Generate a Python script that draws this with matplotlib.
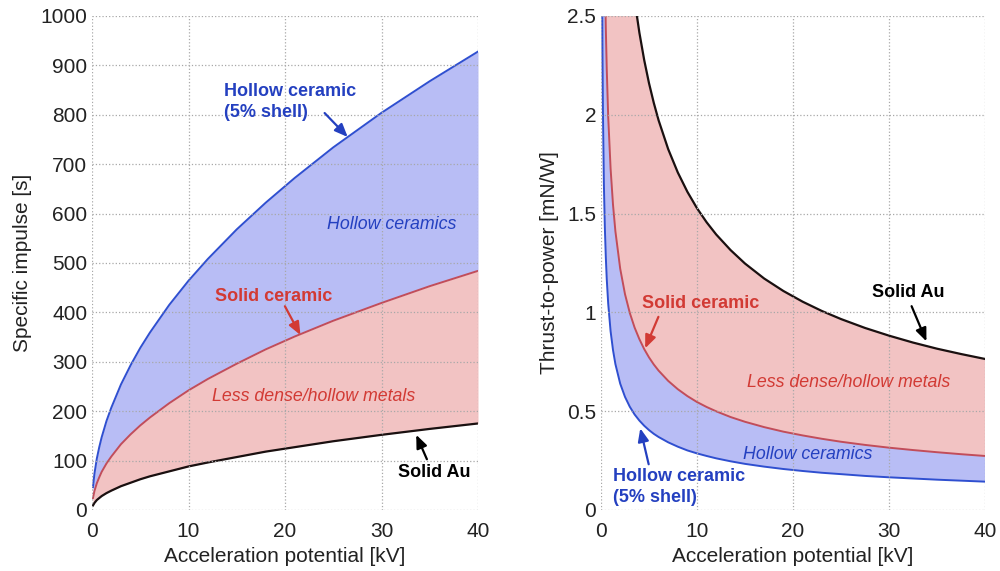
import matplotlib
matplotlib.use('Agg')
import matplotlib.pyplot as plt

plt.rcParams['font.family'] = ['Liberation Sans', 'DejaVu Sans']

# acceleration potential [kV], specific impulse [s] (left panel)
volt_isp = [0.1, 0.25, 0.5, 0.75, 1, 1.5, 2, 3, 4, 5, 6, 8, 10, 12, 15, 18, 21, 25, 30, 35, 40]
isp_au = [9, 14, 20, 24, 28, 34, 39, 48, 55, 62, 68, 78, 88, 96, 107, 118, 127, 139, 152, 164, 175]
isp_ceramic = [24, 38, 54, 66, 77, 94, 108, 133, 153, 171, 187, 216, 242, 265, 296, 325, 351, 383, 419, 453, 484]
isp_hollow = [46, 73, 104, 127, 147, 180, 207, 254, 293, 328, 359, 415, 464, 508, 568, 622, 672, 734, 804, 868, 928]

# acceleration potential [kV], thrust-to-power [mN/W] (right panel)
volt_tp = [0.1, 0.15, 0.2, 0.3, 0.4, 0.5, 0.6, 0.75, 1, 1.25, 1.5, 2, 2.5, 3, 3.5, 4, 4.5, 5, 5.5, 6,
           7, 8, 9, 10, 11, 12, 13.5, 15, 17, 19, 21, 23, 25, 27.5, 30, 32.5, 35, 37.5, 40]
tp_au = [15.27, 12.47, 10.80, 8.82, 7.64, 6.83, 6.24, 5.58, 4.83, 4.32, 3.94, 3.42, 3.05, 2.79, 2.58,
         2.415, 2.277, 2.160, 2.060, 1.972, 1.826, 1.708, 1.610, 1.527, 1.456, 1.394, 1.315, 1.247,
         1.171, 1.108, 1.054, 1.007, 0.966, 0.921, 0.882, 0.847, 0.816, 0.789, 0.764]
tp_ceramic = [5.46, 4.46, 3.86, 3.15, 2.73, 2.44, 2.23, 1.99, 1.727, 1.545, 1.410, 1.221, 1.092, 0.997,
              0.923, 0.864, 0.814, 0.772, 0.736, 0.705, 0.653, 0.611, 0.576, 0.546, 0.521, 0.499, 0.470,
              0.446, 0.419, 0.396, 0.377, 0.360, 0.345, 0.329, 0.315, 0.303, 0.292, 0.282, 0.273]
tp_hollow = [2.86, 2.33, 2.02, 1.65, 1.43, 1.28, 1.167, 1.044, 0.904, 0.809, 0.738, 0.639, 0.572, 0.522,
             0.483, 0.452, 0.426, 0.404, 0.385, 0.369, 0.342, 0.320, 0.301, 0.286, 0.273, 0.261, 0.246,
             0.233, 0.219, 0.207, 0.197, 0.188, 0.181, 0.172, 0.165, 0.159, 0.153, 0.148, 0.143]

BLUE_FILL = '#b8bdf5'
PINK_FILL = '#f2c3c3'
BLUE_LINE = '#2f4fd0'
RED_LINE = '#c24d5a'
BLUE_TXT = '#2440c0'
RED_TXT = '#d23a34'
ARROW = '-|>,head_length=0.6,head_width=0.25'


def style_axes(ax, ymax, yticks):
    ax.set_xlim(0, 40)
    ax.set_ylim(0, ymax)
    ax.set_xticks([0, 10, 20, 30, 40])
    ax.set_yticks(yticks)
    for s in ax.spines.values():
        s.set_visible(False)
    ax.grid(True, linestyle=':', color='#a8a8a8', linewidth=0.9)
    ax.tick_params(length=0, labelsize=15, colors='#222222')
    ax.tick_params(axis='x', pad=9)
    ax.set_xlabel('Acceleration potential [kV]', fontsize=15, color='#222222', labelpad=4)
    ax.set_axisbelow(False)


def note(ax, text, xy, xytext, color, relpos=(0.5, 0.5)):
    # patchA=None so the arrow starts exactly at relpos of the text box
    ax.annotate(text, xy=xy, xytext=xytext, color=color, fontsize=13, fontweight='bold',
                va='center', ha='left', linespacing=1.3,
                arrowprops=dict(arrowstyle=ARROW, color=color, lw=1.6, patchA=None,
                                shrinkA=0, shrinkB=0, relpos=relpos))


fig = plt.figure(figsize=(10, 5.71), dpi=100)
ax1 = fig.add_axes([0.092, 0.107, 0.386, 0.865])
ax2 = fig.add_axes([0.601, 0.107, 0.384, 0.865])

# left: specific impulse
ax1.fill_between(volt_isp, isp_ceramic, isp_hollow, color=BLUE_FILL, lw=0)
ax1.fill_between(volt_isp, isp_au, isp_ceramic, color=PINK_FILL, lw=0)
ax1.plot(volt_isp, isp_hollow, color=BLUE_LINE, lw=1.4)
ax1.plot(volt_isp, isp_ceramic, color=RED_LINE, lw=1.4)
ax1.plot(volt_isp, isp_au, color='#1a1010', lw=1.6)
style_axes(ax1, 1000, range(0, 1001, 100))
ax1.set_ylabel('Specific impulse [s]', fontsize=15, color='#222222', labelpad=6)

note(ax1, 'Hollow ceramic\n(5% shell)', (26.5, 755), (13.7, 825), BLUE_TXT, relpos=(0.76, 0.22))
note(ax1, 'Solid ceramic', (21.6, 354), (12.7, 433), RED_TXT, relpos=(0.6, -0.1))
note(ax1, 'Solid Au', (33.6, 152), (31.7, 75), 'black', relpos=(0.4, 1.3))
ax1.text(24.4, 577, 'Hollow ceramics', color=BLUE_TXT, fontsize=12.8, style='italic', va='center')
ax1.text(12.4, 229, 'Less dense/hollow metals', color=RED_TXT, fontsize=12.8, style='italic', va='center')

# right: thrust-to-power
ax2.fill_between(volt_tp, tp_hollow, tp_ceramic, color=BLUE_FILL, lw=0)
ax2.fill_between(volt_tp, tp_ceramic, tp_au, color=PINK_FILL, lw=0)
ax2.plot(volt_tp, tp_hollow, color=BLUE_LINE, lw=1.4)
ax2.plot(volt_tp, tp_ceramic, color=RED_LINE, lw=1.4)
ax2.plot(volt_tp, tp_au, color='#1a1010', lw=1.6)
style_axes(ax2, 2.5, [0, 0.5, 1, 1.5, 2, 2.5])
ax2.set_yticklabels(['0', '0.5', '1', '1.5', '2', '2.5'])
ax2.set_ylabel('Thrust-to-power [mN/W]', fontsize=15, color='#222222', labelpad=6)

note(ax2, 'Solid Au', (33.9, 0.853), (28.2, 1.10), 'black', relpos=(0.55, -0.3))
note(ax2, 'Solid ceramic', (4.6, 0.818), (4.27, 1.046), RED_TXT, relpos=(0.14, -0.3))
note(ax2, 'Hollow ceramic\n(5% shell)', (4.09, 0.413), (1.25, 0.116), BLUE_TXT, relpos=(0.27, 1.1))
ax2.text(14.8, 0.282, 'Hollow ceramics', color=BLUE_TXT, fontsize=12.8, style='italic', va='center')
ax2.text(15.2, 0.646, 'Less dense/hollow metals', color=RED_TXT, fontsize=12.8, style='italic', va='center')

fig.savefig('out.png', dpi=100)
